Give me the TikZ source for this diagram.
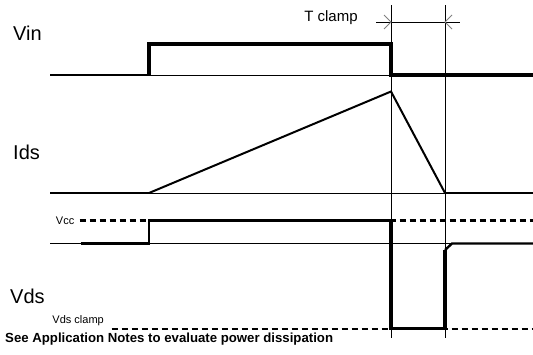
\documentclass[tikz,border=0pt]{standalone}
\usepackage{fontspec}
\setmainfont{Liberation Sans}
\begin{document}
\begin{tikzpicture}[x = 1pt, y = -1pt,
	signal/.style = {line width = 3.4pt},
	weak/.style = {line width = 2.4pt},
	ref/.style = {line width = 1pt},
	level/.style = {line width = 2.2pt, dash pattern = on 6.5pt off 3.5pt},
	big/.style = {font = \fontsize{20}{24}\selectfont, anchor = base west, inner sep = 0pt},
	small/.style = {font = \fontsize{11}{13}\selectfont, anchor = base east, inner sep = 0pt}]
				%	time setup
				
				\def\xl{50}
				\def\xr{533}
				\def\ton{149}
				\def\toff{391}
				\def\tcl{445}
				
				\useasboundingbox (0, 0) rectangle (533, 354);
				
				%	markers
				\draw[ref] (\toff, 5) -- (\toff, 338);
				\draw[ref] (\tcl, 5) -- (\tcl, 338);
				\draw[ref] (376, 22) -- (460, 22);
				\draw[ref, gray] (384, 15) -- (\toff, 22) -- (384, 29);
				\draw[ref, gray] (452, 15) -- (\tcl, 22) -- (452, 29);
				\node[font = \fontsize{15}{18}\selectfont, anchor = base, inner sep = 0pt] (tclamp) at (331, 21.5) {T clamp};
				
				%	Vin
				\node[big] (vin) at (13, 40.7) {Vin};
				\draw[ref] (\ton, 75) -- (\toff, 75);
				\draw[weak] (\xl, 75) -- (\ton, 75);
				\draw[signal] (\ton, 75) -- (\ton, 44) -- (\toff, 44) -- (\toff, 75) -- (\xr, 75);
				
				%	Ids
				\node[big] (ids) at (13, 159) {Ids};
				\draw[ref] (\xl, 193) -- (\xr, 193);
				\draw[weak] (\xl, 193) -- (\ton, 193);
				\draw[line width = 2pt] (\ton, 193) -- (\toff, 91.5) -- (\tcl, 193);
				\draw[weak] (\tcl, 193) -- (\xr, 193);
				
				%	Vds
				\node[small] (vcc) at (74.5, 224) {Vcc};
				\draw[level] (79.5, 220.4) -- (\xr, 220.4);
				\node[small] (vdsclamp) at (104, 323) {Vds clamp};
				\draw[level] (111.6, 328.6) -- (\xr, 328.6);
				\draw[ref] (\xl, 243.5) -- (\xr, 243.5);
				\node[big] (vds) at (10, 303.7) {Vds};
				\draw[weak] (80.6, 243.5) -- (\ton, 243.5) -- (\ton, 220.4) -- (\toff, 220.4);
				\draw[signal] (\toff, 220.4) -- (\toff, 328.6) -- (\tcl, 328.6) -- (\tcl, 250);
				\draw[weak] (\tcl, 250) -- (452, 243.5) -- (\xr, 243.5);
				
				%	note
				\node[font = \bfseries\fontsize{13.2}{15}\selectfont, anchor = base west, inner sep = 0pt] (note) at (5, 342.5) {See Application Notes to evaluate power dissipation};
\end{tikzpicture}
\end{document}
